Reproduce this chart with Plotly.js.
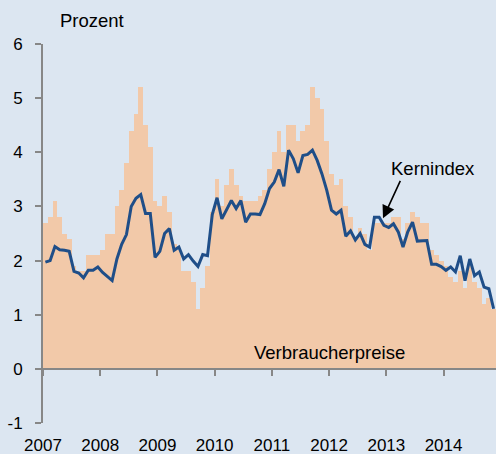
<!DOCTYPE html>
<html>
<head>
<meta charset="utf-8">
<script src="https://cdn.plot.ly/plotly-3.0.1.min.js"></script>
<style>
  html, body { margin: 0; padding: 0; background: #dce6f1; }
  #chart { width: 496px; height: 454px; }
</style>
</head>
<body>
<div id="chart"></div>
<script>
// Monthly values, Jan 2007 – Nov 2014 (Prozent)
const years = ['2007', '2008', '2009', '2010', '2011', '2012', '2013', '2014'];

const verbraucherpreise = [
  2.7, 2.8, 3.1, 2.8, 2.5, 2.4, 1.9, 1.8, 1.8, 2.1, 2.1, 2.1,   // 2007
  2.2, 2.5, 2.5, 3.0, 3.3, 3.8, 4.4, 4.7, 5.2, 4.5, 4.1, 3.1,   // 2008
  3.0, 3.2, 2.9, 2.3, 2.2, 1.8, 1.8, 1.6, 1.1, 1.5, 1.9, 2.9,   // 2009
  3.5, 3.0, 3.4, 3.7, 3.4, 3.2, 3.1, 3.1, 3.1, 3.2, 3.3, 3.7,   // 2010
  4.0, 4.4, 4.0, 4.5, 4.5, 4.2, 4.4, 4.5, 5.2, 5.0, 4.8, 4.2,   // 2011
  3.6, 3.4, 3.5, 3.0, 2.8, 2.4, 2.6, 2.5, 2.2, 2.7, 2.7, 2.7,   // 2012
  2.7, 2.8, 2.8, 2.4, 2.7, 2.9, 2.8, 2.7, 2.7, 2.2, 2.1, 2.0,   // 2013
  1.9, 1.7, 1.6, 1.8, 1.5, 1.9, 1.6, 1.5, 1.2, 1.3, 1.1         // 2014
];

const kernindex = [
  1.97, 2.00, 2.26, 2.20, 2.19, 2.17, 1.80, 1.77, 1.68, 1.82, 1.82, 1.88,   // 2007
  1.78, 1.70, 1.63, 2.03, 2.30, 2.48, 3.00, 3.15, 3.22, 2.87, 2.87, 2.06,   // 2008
  2.17, 2.50, 2.59, 2.19, 2.25, 2.03, 2.11, 1.99, 1.89, 2.11, 2.09, 2.85,   // 2009
  3.16, 2.77, 2.93, 3.11, 2.96, 3.11, 2.71, 2.86, 2.86, 2.85, 3.05, 3.33,   // 2010
  3.45, 3.68, 3.37, 4.04, 3.88, 3.62, 3.94, 3.96, 4.04, 3.85, 3.60, 3.30,   // 2011
  2.93, 2.86, 2.93, 2.45, 2.55, 2.38, 2.50, 2.30, 2.25, 2.80, 2.80, 2.65,   // 2012
  2.61, 2.68, 2.53, 2.25, 2.53, 2.71, 2.36, 2.37, 2.37, 1.93, 1.93, 1.89,   // 2013
  1.82, 1.88, 1.79, 2.09, 1.63, 2.03, 1.72, 1.79, 1.51, 1.48, 1.11          // 2014
];

const yTickValues = [-1, 0, 1, 2, 3, 4, 5, 6];
const yTickLabels = ['-1', '0', '1', '2', '3', '4', '5', '6'];

// month index positions (category positions along the axis)
const monthIdx = verbraucherpreise.map((_, i) => i);
const yearBoundaries = years.map((_, i) => i * 12 - 0.5);
const xRange = [-0.5, verbraucherpreise.length - 0.5];

const FONT = 'Liberation Sans, Arial, sans-serif';
const AXIS_GREY = '#878787';

const bars = {
  type: 'bar',
  x: monthIdx,
  y: verbraucherpreise,
  xaxis: 'x',
  yaxis: 'y',
  marker: {
    color: '#f0c19d',
    line: { width: 0 },
    pattern: { shape: '.', bgcolor: '#efbf99', fgcolor: '#f6d6bd', size: 2, solidity: 0.5 }
  },
  hoverinfo: 'skip',
  showlegend: false
};

const line = {
  type: 'scatter',
  mode: 'lines',
  x: monthIdx,
  y: kernindex,
  xaxis: 'x2',
  yaxis: 'y',
  line: { color: '#1f4e88', width: 3 },
  showlegend: false
};

const layout = {
  width: 496,
  height: 454,
  margin: { l: 43, r: 0, t: 44, b: 31, pad: 0 },
  paper_bgcolor: '#dce6f1',
  plot_bgcolor: '#dce6f1',
  font: { family: FONT, size: 17, color: '#000' },
  bargap: 0,
  showlegend: false,
  xaxis: {
    range: xRange,
    tickmode: 'array',
    tickvals: yearBoundaries,
    ticktext: years,
    ticks: '',
    showline: false,
    showgrid: false,
    zeroline: false,
    tickfont: { family: FONT, size: 17, color: '#000' },
    ticklabelstandoff: 10,
    fixedrange: true
  },
  xaxis2: {
    overlaying: 'x',
    anchor: 'free',
    position: 1 / 7,
    side: 'bottom',
    range: xRange,
    tickmode: 'array',
    tickvals: yearBoundaries,
    ticks: 'outside',
    ticklen: 6,
    tickwidth: 2,
    tickcolor: AXIS_GREY,
    showticklabels: false,
    showline: true,
    linecolor: AXIS_GREY,
    linewidth: 2,
    showgrid: false,
    zeroline: false,
    fixedrange: true
  },
  yaxis: {
    range: [-1, 6],
    tickmode: 'array',
    tickvals: yTickValues,
    ticktext: yTickLabels,
    ticks: 'outside',
    ticklen: 6,
    tickwidth: 2,
    tickcolor: AXIS_GREY,
    showline: true,
    linecolor: AXIS_GREY,
    linewidth: 2,
    showgrid: false,
    zeroline: false,
    tickfont: { family: FONT, size: 17, color: '#000' },
    ticklabelstandoff: 9,
    fixedrange: true
  },
  annotations: [
    {
      xref: 'paper', yref: 'paper',
      x: (92 - 43) / 453, y: (423 - 21) / 379,
      xanchor: 'center', yanchor: 'middle',
      text: 'Prozent', showarrow: false,
      font: { family: FONT, size: 18.5, color: '#000' }
    },
    {
      xref: 'paper', yref: 'paper',
      x: (329 - 43) / 453, y: (423 - 352) / 379,
      xanchor: 'center', yanchor: 'middle',
      text: 'Verbraucherpreise', showarrow: false,
      font: { family: FONT, size: 18.5, color: '#000' }
    },
    {
      xref: 'paper', yref: 'paper',
      x: (433 - 43) / 453, y: (423 - 168) / 379,
      xanchor: 'center', yanchor: 'middle',
      text: 'Kernindex', showarrow: false,
      font: { family: FONT, size: 18.5, color: '#000' }
    },
    {
      xref: 'x', yref: 'y',
      x: 70.8, y: 2.78,
      ax: 18, ay: -39,
      text: '',
      showarrow: true,
      arrowhead: 2,
      arrowsize: 1.6,
      arrowwidth: 1.6,
      arrowcolor: '#000'
    }
  ]
};

Plotly.newPlot('chart', [bars, line], layout, { displayModeBar: false, staticPlot: true });
</script>
</body>
</html>
